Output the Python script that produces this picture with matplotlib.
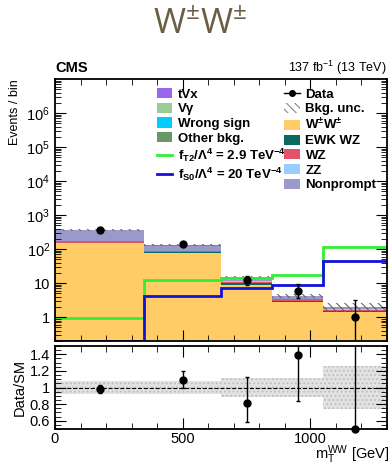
import numpy as np
import matplotlib
matplotlib.use('Agg')
import matplotlib.pyplot as plt
from matplotlib.patches import Patch
from matplotlib.lines import Line2D
from matplotlib.ticker import FixedLocator, MultipleLocator, LogLocator, NullFormatter, FuncFormatter

plt.rcParams['font.family'] = ['Liberation Sans', 'DejaVu Sans']
plt.rcParams['mathtext.fontset'] = 'custom'
plt.rcParams['mathtext.rm'] = 'Liberation Sans'
plt.rcParams['mathtext.it'] = 'Liberation Sans:italic'
plt.rcParams['mathtext.bf'] = 'Liberation Sans:bold'
plt.rcParams['mathtext.default'] = 'regular'
plt.rcParams['hatch.linewidth'] = 0.8

# binning in mT(WW)
edges = np.array([0, 350, 650, 850, 1050, 1300])
centers = 0.5 * (edges[:-1] + edges[1:])

# background stack, bottom to top
ww = np.array([147, 75, 9.0, 2.8, 1.40])
ewk_wz = np.array([8, 5, 0.8, 0.25, 0.12])
wz = np.array([16, 8, 1.2, 0.35, 0.12])
zz = np.array([3, 1.5, 0.3, 0.10, 0.12])
nonprompt = np.array([180, 38, 2.6, 0.60, 0.10])
other_bkg = np.array([5, 2, 0.3, 0.08, 0.04])
wrong_sign = np.array([4, 1.5, 0.2, 0.06, 0.06])
vgamma = np.array([3, 1, 0.2, 0.03, 0.02])
tvx = np.array([2, 0.8, 0.1, 0.03, 0.02])
bkg_unc = np.array([0.08, 0.075, 0.12, 0.12, 0.265])

# observed data
data = np.array([360, 145, 12, 6, 1])
data_lo = np.array([18, 13, 3.4, 2.4, 1.0])
data_hi = np.array([18, 14, 4.6, 3.2, 2.3])

# EFT predictions
ft2 = np.array([0.95, 12, 14, 17, 112])
fs0 = np.array([0.2, 4.2, 7.2, 8.6, 46])

stack = [
    (ww, '#ffcc66'),
    (ewk_wz, '#0b6b5e'),
    (wz, '#dd5566'),
    (zz, '#99ccff'),
    (nonprompt, '#9999cc'),
    (other_bkg, '#669966'),
    (wrong_sign, '#00ccff'),
    (vgamma, '#99cc99'),
    (tvx, '#9966ee'),
]

fig = plt.figure(figsize=(3.92, 4.66), dpi=100)
ax = fig.add_axes([55/392, 1-341/466, 332/392, 262/466])
ax2 = fig.add_axes([55/392, 1-429/466, 332/392, 83/466], sharex=ax)

# stacked histograms
bottom = np.full(len(ww), 1e-3)
for vals, col in stack:
    top = bottom + vals
    ax.stairs(top, edges, baseline=bottom, fill=True, color=col, lw=0)
    bottom = top
total = bottom

ax.stairs(total*(1+bkg_unc), edges, baseline=total*(1-bkg_unc), fill=True,
          facecolor='none', edgecolor='#666666', hatch='\\\\\\\\', lw=0)

ax.stairs(ft2, edges, color='#33ee33', lw=2, baseline=None)
ax.stairs(fs0, edges, color='#1111dd', lw=2, baseline=None)

ax.errorbar(centers, data, yerr=[data_lo, data_hi], fmt='o', color='k',
            ms=5, lw=1, capsize=1.5, zorder=5)

ax.set_yscale('log')
ax.set_ylim(0.2, 1e7)
ax.set_xlim(0, 1300)
ax.yaxis.set_major_locator(FixedLocator([1, 10, 1e2, 1e3, 1e4, 1e5, 1e6]))
ax.yaxis.set_minor_locator(LogLocator(base=10, subs=np.arange(2, 10), numticks=20))
ax.yaxis.set_minor_formatter(NullFormatter())


def log_fmt(v, pos):
    e = int(round(np.log10(v)))
    if e == 0:
        return '1'
    if e == 1:
        return '10'
    return '10$^{%d}$' % e


ax.yaxis.set_major_formatter(FuncFormatter(log_fmt))
ax.set_ylabel('Events / bin', loc='top', fontsize=9, labelpad=4)
ax.tick_params(labelbottom=False)

# legends
h1 = [Patch(fc='#9966ee', label='tVx'),
      Patch(fc='#99cc99', label='Vγ'),
      Patch(fc='#00ccff', label='Wrong sign'),
      Patch(fc='#669966', label='Other bkg.'),
      Line2D([], [], color='#33ee33', lw=2,
             label=r'$\mathbf{f_{T2}/\Lambda^4}$ = 2.9 TeV$^{\mathbf{-4}}$'),
      Line2D([], [], color='#1111dd', lw=2,
             label=r'$\mathbf{f_{S0}/\Lambda^4}$ = 20 TeV$^{\mathbf{-4}}$')]
h2 = [Line2D([], [], color='k', marker='o', ms=4, lw=1, label='Data'),
      Patch(fc='none', ec='#888888', hatch='\\\\\\\\', lw=0, label='Bkg. unc.'),
      Patch(fc='#ffcc66', label=r'W$^{\mathbf{\pm}}$W$^{\mathbf{\pm}}$'),
      Patch(fc='#0b6b5e', label='EWK WZ'),
      Patch(fc='#dd5566', label='WZ'),
      Patch(fc='#99ccff', label='ZZ'),
      Patch(fc='#9999cc', label='Nonprompt')]
leg_kw = dict(frameon=False, prop={'weight': 'bold', 'size': 9.5},
              handlelength=1.2, handleheight=0.8, handletextpad=0.4,
              labelspacing=0.15, borderaxespad=0)
leg1 = ax.legend(handles=h1, loc='upper left', bbox_to_anchor=(0.29, 0.985), **leg_kw)
ax.add_artist(leg1)
ax.legend(handles=h2, loc='upper left', bbox_to_anchor=(0.675, 0.985), **leg_kw)

# ratio panel
ratio = data / total
ax2.stairs(1+bkg_unc, edges, baseline=1-bkg_unc, fill=True,
           facecolor='#e2e2e2', edgecolor='#bdbdbd', hatch='....', lw=0)
ax2.axhline(1, color='k', ls='--', lw=0.8)
ax2.errorbar(centers, ratio, yerr=[data_lo/total, data_hi/total], fmt='none',
             ecolor='k', lw=1, capsize=1.5, zorder=5)
ax2.plot(centers, ratio, 'o', color='k', ms=5, zorder=6, clip_on=False)
ax2.set_ylim(0.5, 1.5)
ax2.yaxis.set_major_locator(FixedLocator([0.6, 0.8, 1.0, 1.2, 1.4]))
ax2.yaxis.set_minor_locator(MultipleLocator(0.05))
ax2.yaxis.set_major_formatter(FuncFormatter(lambda v, p: '%g' % v))
ax2.xaxis.set_major_locator(MultipleLocator(500))
ax2.xaxis.set_minor_locator(MultipleLocator(100))
ax2.set_ylabel('Data/SM', fontsize=10.5, labelpad=2)

for a in (ax, ax2):
    a.tick_params(which='both', direction='in', top=True, right=True, labelsize=10.5)
    a.tick_params(which='major', length=8, width=0.8)
    a.tick_params(which='minor', length=4, width=0.6)
    for s in a.spines.values():
        s.set_linewidth(1.3)
ax2.tick_params(axis='x', pad=2)

fig.text(0.51, 1-24/466, r'W$^{\pm}$W$^{\pm}$', ha='center', va='center',
         fontsize=25, color='#6b5e45', family=['Open Sans', 'DejaVu Sans'])
fig.text(55/392, 1-68/466, 'CMS', ha='left', va='center', fontsize=10.5, weight='bold')
fig.text(387/392, 1-68/466, '137 fb$^{-1}$ (13 TeV)', ha='right', va='center', fontsize=9)
fig.text(389/392, 1-455/466, r'm$_{T}^{WW}$ [GeV]', ha='right', va='center', fontsize=10.5)

fig.savefig('out.png', dpi=100)
